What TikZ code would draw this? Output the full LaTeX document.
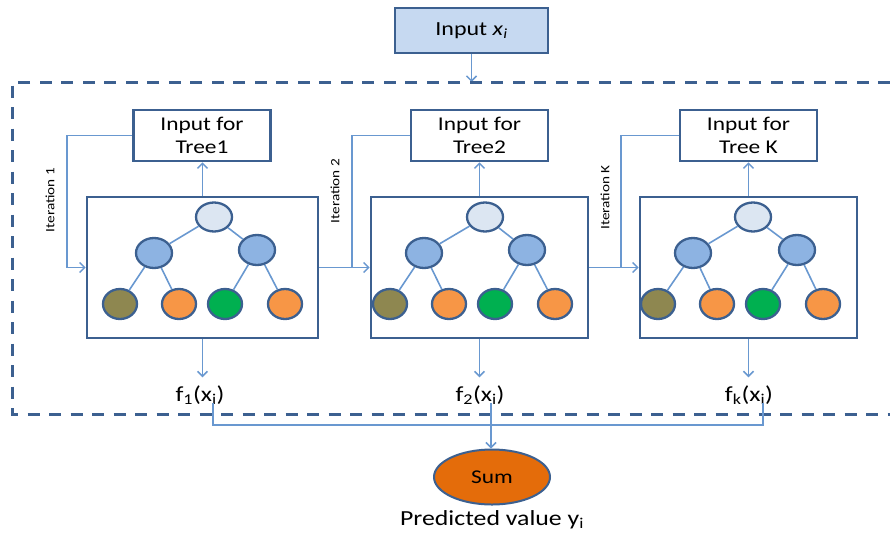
\documentclass[tikz,border=0pt]{standalone}
\usepackage{fontspec}
\setmainfont{Carlito}[FakeStretch=1.2]
\usetikzlibrary{shapes.geometric,arrows.meta,calc}
\definecolor{boxc}{RGB}{60,96,144}
\definecolor{linec}{RGB}{105,152,208}
\definecolor{inputfill}{RGB}{198,217,241}
\definecolor{rootc}{RGB}{220,230,242}
\definecolor{midc}{RGB}{141,179,226}
\definecolor{olivec}{RGB}{142,135,80}
\definecolor{orangec}{RGB}{247,150,70}
\definecolor{greenc}{RGB}{0,176,80}
\definecolor{sumc}{RGB}{228,108,10}
\begin{document}
\begin{tikzpicture}[x=1pt,y=-1pt,
  inbox/.style={draw=boxc, line width=2.6pt, fill=white, align=center, inner sep=0pt,
     minimum width=137pt, minimum height=51pt, font=\fontsize{19.5}{23}\selectfont},
  treebox/.style={draw=boxc, line width=2.6pt, inner sep=0pt, minimum height=141pt},
  tnode/.style={ellipse, draw=boxc, line width=2.3pt, inner sep=0pt, minimum width=36pt, minimum height=29pt},
  edge/.style={draw=linec, line width=1.6pt},
  conn/.style={draw=linec, line width=1.5pt},
  arr/.style={draw=linec, line width=1.5pt, -{Straight Barb[length=5pt,width=10pt]}},
  iter/.style={rotate=90, font=\fontsize{12.7}{14}\selectfont, inner sep=0pt},
  flabel/.style={font=\fontsize{21.5}{25}\selectfont, inner xsep=0pt, inner ysep=8pt},
]
\useasboundingbox (0,0) rectangle (890,533);

% top input
\node[draw=boxc, line width=2.6pt, fill=inputfill, minimum width=153pt, minimum height=45pt, inner sep=0pt,
  font=\fontsize{20}{24}\selectfont] (in0) at (471.5,30.5) {Input \textit{x}\textsubscript{\textit{i}}};
\coordinate (d0) at (471.5,82);
\draw[arr] (in0.south) -- (d0);

% dashed frame
\draw[boxc, line width=3pt, dash pattern=on 12pt off 9.5pt] (890,82) -- (12,82) -- (12,414) -- (890,414);

% input-for boxes
\node[inbox] (in1) at (202,135.5) {Input for\\Tree1};
\node[inbox] (in2) at (479.5,135.5) {Input for\\Tree2};
\node[inbox] (in3) at (748.5,135.5) {Input for\\Tree K};

% tree boxes
\node[treebox, minimum width=231pt] (t1) at (202.5,267.5) {};
\node[treebox, minimum width=217pt] (t2) at (479.5,267.5) {};
\node[treebox, minimum width=217pt] (t3) at (748.5,267.5) {};

% trees
\foreach \p/\rx/\ax/\bx/\la/\lb/\lc/\ld in {a/214/154/257/120/179/225/285, b/485/424/527/390/449/495/555, c/753/693/797/658/717/763/823}{
  \node[tnode, fill=rootc] (\p r) at (\rx,217) {};
  \node[tnode, fill=midc, minimum height=30pt] (\p m1) at (\ax,253) {};
  \node[tnode, fill=midc, minimum height=30pt] (\p m2) at (\bx,250) {};
  \node[tnode, fill=olivec, minimum width=34pt, minimum height=30pt] (\p l1) at (\la,304) {};
  \node[tnode, fill=orangec, minimum width=34pt, minimum height=30pt] (\p l2) at (\lb,304) {};
  \node[tnode, fill=greenc, minimum width=34pt, minimum height=30pt] (\p l3) at (\lc,304) {};
  \node[tnode, fill=orangec, minimum width=34pt, minimum height=30pt] (\p l4) at (\ld,304) {};
  \draw[edge] (\p r) -- (\p m1);
  \draw[edge] (\p r) -- (\p m2);
  \draw[edge] (\p m1) -- (\p l1);
  \draw[edge] (\p m1) -- (\p l2);
  \draw[edge] (\p m2) -- (\p l3);
  \draw[edge] (\p m2) -- (\p l4);
}

% arrows up to input boxes
\draw[arr] (t1.north) -- (t1.north |- in1.south);
\draw[arr] (t2.north) -- (t2.north |- in2.south);
\draw[arr] (t3.north) -- (t3.north |- in3.south);

% iteration loops
\coordinate (j1) at (67,267.5);
\coordinate (j2) at (352,267.5);
\coordinate (j3) at (621,267.5);
\draw[arr] (in1.west) -| (j1) -- (t1.west);
\draw[conn] (in2.west) -| (j2);
\draw[conn] (in3.west) -| (j3);
\draw[arr] (t1.east) -- (t2.west);
\draw[arr] (t2.east) -- (t3.west);

\node[iter] (it1) at (50,200) {Iteration 1};
\node[iter] (it2) at (335,191) {Iteration 2};
\node[iter] (it3) at (605,197.5) {Iteration K};

% outputs
\node[flabel] (f1) at (200,395) {f\textsubscript{1}(x\textsubscript{i})};
\node[flabel] (f2) at (480,395) {f\textsubscript{2}(x\textsubscript{i})};
\node[flabel] (f3) at (749,395) {f\textsubscript{k}(x\textsubscript{i})};
\draw[arr] (t1.south) -- (t1.south |- f1.north);
\draw[arr] (t2.south) -- (t2.south |- f2.north);
\draw[arr] (t3.south) -- (t3.south |- f3.north);

% sum
\node[ellipse, draw=boxc, line width=2pt, fill=sumc, minimum width=116pt, minimum height=55pt,
  inner sep=0pt, font=\fontsize{19.5}{23}\selectfont] (sum) at (492,477) {Sum};
\node[font=\fontsize{21.5}{25}\selectfont, inner sep=0pt] (pred) at (492,520) {Predicted value y\textsubscript{i}};

\coordinate (a1) at (213,403);
\coordinate (a2) at (491,403);
\coordinate (a3) at (763,403);
\coordinate (b1) at (213,425);
\coordinate (b3) at (763,425);
\draw[conn] (a1) -- (b1) -- (b3) -- (a3);
\draw[arr] (a2) -- (a2 |- sum.north);
\end{tikzpicture}
\end{document}
